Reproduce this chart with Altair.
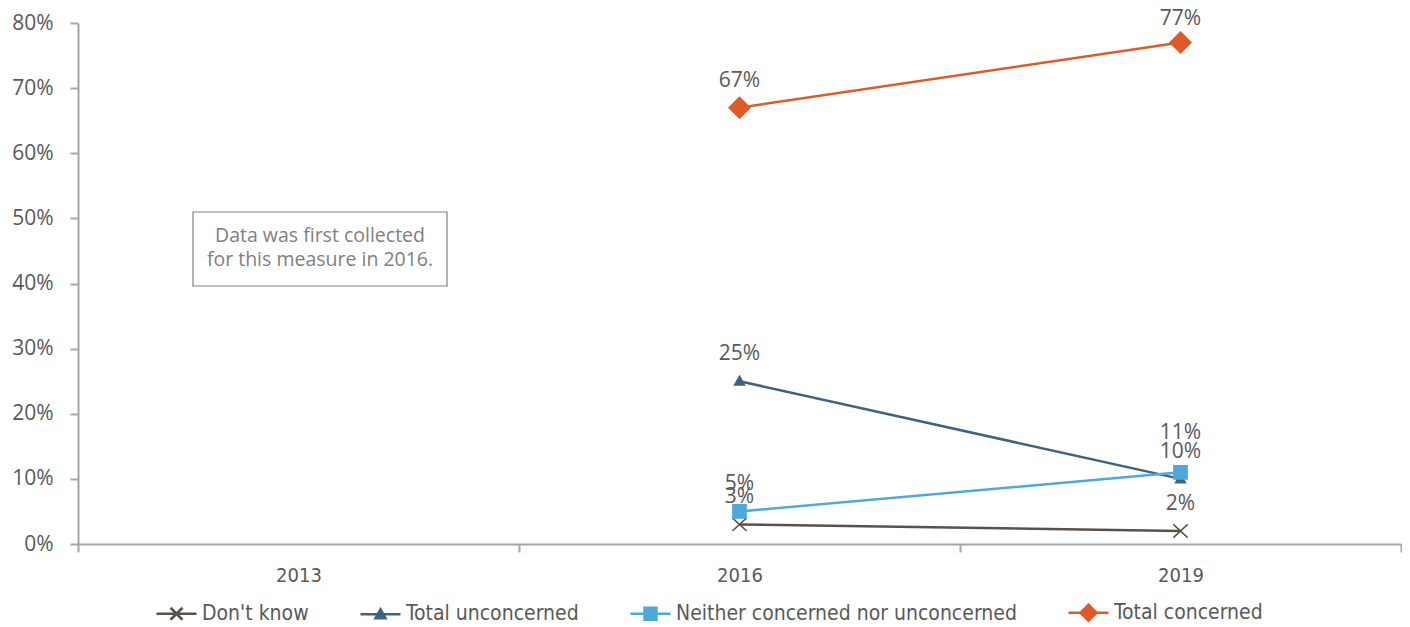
import altair as alt
import pandas as pd

years = ["2013", "2016", "2019"]
series = ["Don't know", "Total unconcerned", "Neither concerned nor unconcerned", "Total concerned"]
dont_know = [None, 0.03, 0.02]
total_unconcerned = [None, 0.25, 0.10]
neither = [None, 0.05, 0.11]
total_concerned = [None, 0.67, 0.77]
y_ticks = [0, 0.1, 0.2, 0.3, 0.4, 0.5, 0.6, 0.7, 0.8]
note_lines = ["Data was first collected", "for this measure in 2016."]

colors = ["#5b5149", "#3f6283", "#4ea9da", "#e05a27"]
point_paths = [
    "M-0.65,-0.6L0.65,0.6M-0.65,0.6L0.65,-0.6",
    "M0,-0.45L0.45,0.35L-0.45,0.35Z",
    "M-0.6,-0.6H0.6V0.6H-0.6Z",
    "M0,-0.95L0.95,0L0,0.95L-0.95,0Z",
]
legend_paths = [
    "M-1,0H1M-0.3,-0.3L0.3,0.3M-0.3,0.3L0.3,-0.3",
    "M-1,0H1M0,-0.25L0.25,0.2L-0.25,0.2Z",
    "M-1,0H1M-0.3,-0.3H0.3V0.3H-0.3Z",
    "M-1,0H1M0,-0.4L0.4,0L0,0.4L-0.4,0Z",
]

rows = []
for name, vals in zip(series, [dont_know, total_unconcerned, neither, total_concerned]):
    for yr, v in zip(years, vals):
        rows.append({"year": yr, "series": name, "value": v})
df = pd.DataFrame(rows)

NARROW = "Liberation Sans Narrow, DejaVu Sans Condensed, Roboto Condensed, Open Sans"
MAIN = "Open Sans"
TXT = "#595959"
AX = "#a6a6a6"

W, H = 1323, 521

x_enc = alt.X("year:N", sort=years, scale=alt.Scale(domain=years, paddingInner=0, paddingOuter=0),
              axis=alt.Axis(title=None, labelAngle=0, tickBand="extent", tickSize=8, labelPadding=13,
                            labelFont=NARROW, labelFontSize=20, labelColor=TXT,
                            domainColor=AX, tickColor=AX, domainWidth=2, tickWidth=2, grid=False))
y_enc = alt.Y("value:Q", scale=alt.Scale(domain=[0, 0.8], nice=False),
              axis=alt.Axis(title=None, values=y_ticks, format=".0%", tickSize=8, labelPadding=17,
                            labelFont=MAIN, labelFontSize=21, labelColor=TXT,
                            domainColor=AX, tickColor=AX, domainWidth=2, tickWidth=2, grid=False))

base = alt.Chart(df)

lines = base.mark_line(strokeWidth=2.5).encode(
    x=x_enc, y=y_enc,
    color=alt.Color("series:N", scale=alt.Scale(domain=series, range=colors), legend=None),
)

points = base.transform_filter("datum.value != null").mark_point(
    filled=True, size=484, strokeWidth=1.5, opacity=1
).encode(
    x=x_enc, y=y_enc,
    fill=alt.Fill("series:N", scale=alt.Scale(domain=series, range=colors), legend=None),
    stroke=alt.Stroke("series:N", scale=alt.Scale(domain=series, range=colors), legend=None),
    shape=alt.Shape("series:N", scale=alt.Scale(domain=series, range=point_paths), legend=None),
)

leg = alt.Legend(title=None, orient="none", legendX=77, legendY=568, direction="horizontal",
                 labelFont=NARROW, labelFontSize=21, labelColor=TXT, symbolSize=1600,
                 symbolStrokeWidth=2.5, labelOffset=4, columnPadding=46, symbolOpacity=1,
                 labelLimit=500)

legend_layer = base.transform_filter("false").mark_point(
    filled=True, size=1600, strokeWidth=2.5, opacity=1
).encode(
    x=x_enc, y=y_enc,
    fill=alt.Fill("series:N", scale=alt.Scale(domain=series, range=colors), legend=leg),
    stroke=alt.Stroke("series:N", scale=alt.Scale(domain=series, range=colors), legend=leg),
    shape=alt.Shape("series:N", scale=alt.Scale(domain=series, range=legend_paths), legend=leg),
)

is_moved = "datum.series == 'Neither concerned nor unconcerned' && datum.year == '2019'"
is_top = "datum.series == 'Total concerned' && datum.year == '2019'"
labels = base.transform_filter("datum.value != null").transform_filter(
    "!(" + is_moved + ") && !(" + is_top + ")"
).mark_text(dy=-27, font=MAIN, fontSize=21, color=TXT).encode(
    x=x_enc, y=y_enc, text=alt.Text("value:Q", format=".0%"))

labels2 = base.transform_filter(is_moved).mark_text(
    dy=-39, font=MAIN, fontSize=21, color=TXT
).encode(x=x_enc, y=y_enc, text=alt.Text("value:Q", format=".0%"))

labels3 = base.transform_filter(is_top).mark_text(
    dy=-24, font=MAIN, fontSize=21, color=TXT
).encode(x=x_enc, y=y_enc, text=alt.Text("value:Q", format=".0%"))

note_data = alt.Data(values=[{"a": 1}])
note_box = alt.Chart(note_data).mark_rect(fill="white", stroke="#808080", strokeWidth=1.2).encode(
    x=alt.value(115), x2=alt.value(369), y=alt.value(189), y2=alt.value(263)
)
note_text = alt.Chart(note_data).mark_text(
    font=MAIN, fontSize=19.5, color="#7f7f7f", lineHeight=24, align="center", baseline="middle"
).encode(x=alt.value(242), y=alt.value(213), text=alt.value(note_lines))

chart = alt.layer(
    note_box, note_text, lines, points, legend_layer, labels, labels2, labels3
).resolve_scale(
    fill="independent", stroke="independent", shape="independent"
).properties(
    width=W, height=H,
    autosize=alt.AutoSizeParams(type="none"),
    padding={"left": 70, "top": 15, "right": 1, "bottom": 80},
    background="white",
).configure_view(strokeWidth=0, stroke=None, fill="white")

chart.save("out.html", embed_options={"renderer": "svg", "actions": False})
